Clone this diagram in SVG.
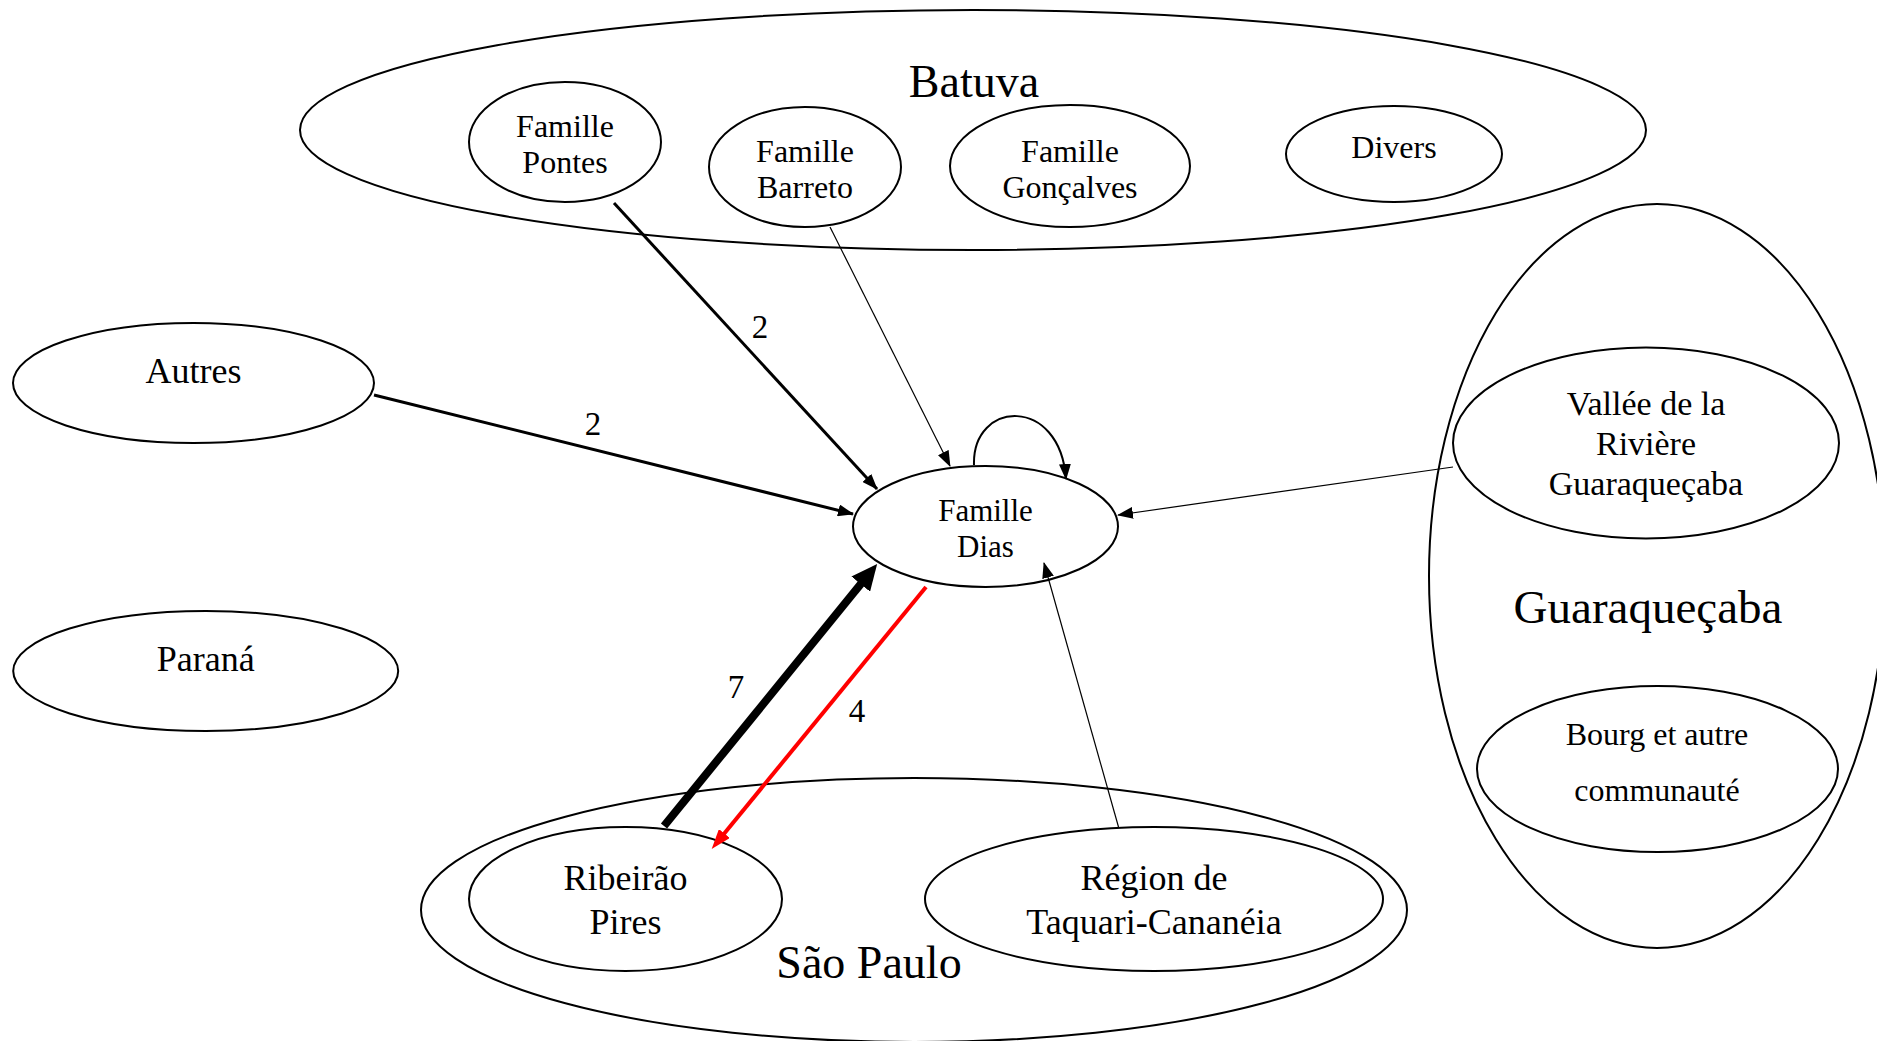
<svg xmlns="http://www.w3.org/2000/svg" width="1877" height="1041" viewBox="0 0 1877 1041">
<style>
.n{fill:none;stroke:#000;stroke-width:2}
.t{font-family:"Liberation Serif","Times New Roman",serif;fill:#000;text-anchor:middle}
.big{font-size:46px}
.med{font-size:36px}
.sm{font-size:32px}
.lbl{font-size:33px}
.e{fill:none;stroke:#000}
</style>
<defs>
<marker id="arr" viewBox="0 0 16 12" refX="15" refY="6" markerWidth="16" markerHeight="12" markerUnits="userSpaceOnUse" orient="auto"><path d="M0,0 L16,6 L0,12 z" fill="#000"/></marker>
<marker id="arrBig" viewBox="0 0 26 24" refX="2" refY="12" markerWidth="26" markerHeight="24" markerUnits="userSpaceOnUse" orient="auto"><path d="M0,0 L26,12 L0,24 z" fill="#000"/></marker>
<marker id="arrRed" viewBox="0 0 20 14" refX="4" refY="7" markerWidth="20" markerHeight="14" markerUnits="userSpaceOnUse" orient="auto"><path d="M0,0 L20,7 L0,14 z" fill="#f00"/></marker>
</defs>
<rect width="1877" height="1041" fill="#fff"/>

<g id="batuva">
<ellipse class="n" cx="973" cy="130" rx="673" ry="120"/>
<text class="t big" x="974" y="97">Batuva</text>
</g>
<g id="famille-pontes">
<ellipse class="n" cx="565" cy="142" rx="96" ry="60"/>
<text class="t sm" x="565" y="137">Famille</text>
<text class="t sm" x="565" y="173">Pontes</text>
</g>
<g id="famille-barreto">
<ellipse class="n" cx="805" cy="167" rx="96" ry="60"/>
<text class="t sm" x="805" y="162">Famille</text>
<text class="t sm" x="805" y="198">Barreto</text>
</g>
<g id="famille-goncalves">
<ellipse class="n" cx="1070" cy="166" rx="120" ry="61"/>
<text class="t sm" x="1070" y="162">Famille</text>
<text class="t sm" x="1070" y="198">Gonçalves</text>
</g>
<g id="divers">
<ellipse class="n" cx="1394" cy="154" rx="108" ry="48"/>
<text class="t sm" x="1394" y="158">Divers</text>
</g>
<g id="autres">
<ellipse class="n" cx="193.5" cy="383" rx="180.5" ry="60"/>
<text class="t med" x="193.5" y="383">Autres</text>
</g>
<g id="parana">
<ellipse class="n" cx="205.7" cy="671" rx="192.5" ry="60"/>
<text class="t med" x="205.7" y="671">Paraná</text>
</g>
<g id="famille-dias">
<ellipse class="n" cx="985.5" cy="526.5" rx="132.5" ry="60.5"/>
<text class="t" style="font-size:31px" x="985.5" y="521">Famille</text>
<text class="t" style="font-size:31px" x="985.5" y="557">Dias</text>
</g>
<g id="guaraquecaba">
<ellipse class="n" cx="1657" cy="576" rx="228" ry="372"/>
<text class="t" style="font-size:47px" x="1648" y="623">Guaraqueçaba</text>
</g>
<g id="vallee">
<ellipse class="n" cx="1646" cy="443" rx="193" ry="95.5"/>
<text class="t" style="font-size:34px" x="1646" y="415">Vallée de la</text>
<text class="t" style="font-size:34px" x="1646" y="455">Rivière</text>
<text class="t" style="font-size:34px" x="1646" y="495">Guaraqueçaba</text>
</g>
<g id="bourg">
<ellipse class="n" cx="1657.5" cy="769" rx="180.5" ry="83"/>
<text class="t sm" x="1657" y="745">Bourg et autre</text>
<text class="t sm" x="1657" y="801">communauté</text>
</g>
<g id="sao-paulo">
<ellipse class="n" cx="914" cy="910" rx="493" ry="132"/>
<text class="t big" x="869" y="978">São Paulo</text>
</g>
<g id="ribeirao-pires">
<ellipse class="n" cx="625.5" cy="899" rx="156.5" ry="72"/>
<text class="t med" x="625.5" y="890">Ribeirão</text>
<text class="t med" x="625.5" y="934">Pires</text>
</g>
<g id="regiao-taquari">
<ellipse class="n" cx="1154" cy="899" rx="229" ry="72"/>
<text class="t med" x="1154" y="890">Région de</text>
<text class="t med" x="1154" y="934">Taquari-Cananéia</text>
</g>

<g id="connectors">
<line class="e" x1="614" y1="203" x2="877" y2="489" stroke-width="3" marker-end="url(#arr)"/>
<line class="e" x1="374" y1="395" x2="853" y2="514" stroke-width="3" marker-end="url(#arr)"/>
<line class="e" x1="830" y1="227" x2="950" y2="466" stroke-width="1.2" marker-end="url(#arr)"/>
<line class="e" x1="1453" y1="467" x2="1118" y2="515" stroke-width="1.2" marker-end="url(#arr)"/>
<line class="e" x1="1118.5" y1="827" x2="1044" y2="563" stroke-width="1.2" marker-end="url(#arr)"/>
<line class="e" x1="664" y1="826" x2="862" y2="582.6" stroke-width="8" marker-end="url(#arrBig)"/>
<line x1="926" y1="587" x2="721.8" y2="836.6" stroke="#f00" stroke-width="4" marker-end="url(#arrRed)"/>
<path class="e" d="M974,465 C972,400 1060,395 1066,479" stroke-width="2" marker-end="url(#arr)"/>
<text class="t lbl" x="760" y="338">2</text>
<text class="t lbl" x="593" y="435">2</text>
<text class="t lbl" x="736" y="698">7</text>
<text class="t lbl" x="857" y="722">4</text>
</g>
</svg>
